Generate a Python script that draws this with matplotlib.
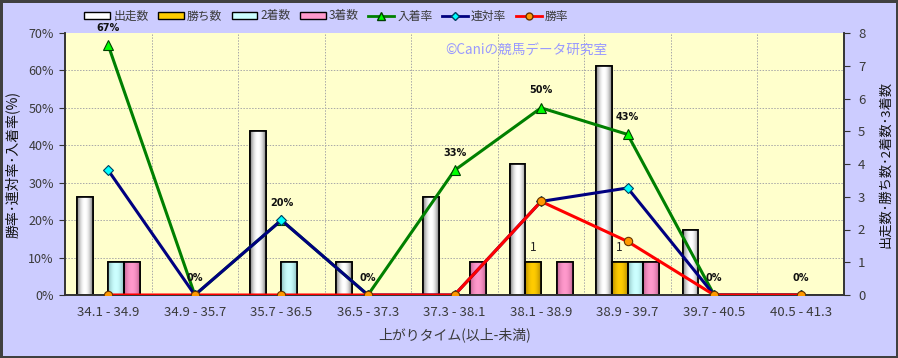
import numpy as np
import matplotlib.pyplot as plt
from matplotlib.colors import LinearSegmentedColormap
from matplotlib.patches import Patch
from matplotlib.lines import Line2D

plt.rcParams['font.family'] = ['Noto Sans CJK JP', 'DejaVu Sans']

# data
categories = ['34.1 - 34.9', '34.9 - 35.7', '35.7 - 36.5', '36.5 - 37.3', '37.3 - 38.1',
              '38.1 - 38.9', '38.9 - 39.7', '39.7 - 40.5', '40.5 - 41.3']
starts = [3, 0, 5, 1, 3, 4, 7, 2, 0]
wins = [0, 0, 0, 0, 0, 1, 1, 0, 0]
seconds = [1, 0, 1, 0, 0, 0, 1, 0, 0]
thirds = [1, 0, 0, 0, 1, 1, 1, 0, 0]
place_rate = [66.7, 0, 20.0, 0, 33.3, 50.0, 42.9, 0, 0]
quinella_rate = [33.3, 0, 20.0, 0, 0, 25.0, 28.6, 0, 0]
win_rate = [0, 0, 0, 0, 0, 25.0, 14.3, 0, 0]
place_labels = ['67%', '0%', '20%', '0%', '33%', '50%', '43%', '0%', '0%']

bg = '#CCCCFF'
plot_bg = '#FFFFCC'
text_col = '#3a3a3a'

fig = plt.figure(figsize=(8.98, 3.58), dpi=100)
fig.patch.set_facecolor(bg)
fig.patch.set_edgecolor('#404040')
fig.patch.set_linewidth(2.5)

# bars on primary axes (ticks on right), lines on twin (ticks on left)
ax = fig.add_axes([65/898, 1 - 295/358, (844 - 65)/898, (295 - 33)/358])
ax.set_facecolor(plot_bg)
ax2 = ax.twinx()

x = np.arange(len(categories))
w = 0.182
bar_series = [
    (starts, '#FFFFFF', '#7A7A7A', '出走数'),
    (wins, '#FFCC00', '#B08800', '勝ち数'),
    (seconds, '#CCFFFF', '#88BBBB', '2着数'),
    (thirds, '#FF99CC', '#C06090', '3着数'),
]
ax.set_xlim(-0.5, len(categories) - 0.5)
ax.set_ylim(0, 8)
ax.set_autoscale_on(False)

grad = np.abs(np.linspace(-1, 1, 64)) ** 2.0
grad = grad.reshape(1, -1)
for i, (vals, light, dark, name) in enumerate(bar_series):
    offs = (i - 1.5) * w
    cmap = LinearSegmentedColormap.from_list(name, [light, dark])
    bars = ax.bar(x + offs, vals, width=w, color=light, edgecolor='black',
                  linewidth=1.2, zorder=2)
    for b in bars:
        if b.get_height() <= 0:
            continue
        im = ax.imshow(grad, cmap=cmap, vmin=0, vmax=1, aspect='auto',
                       extent=[b.get_x(), b.get_x() + b.get_width(), 0, b.get_height()],
                       zorder=2.1)
        im.set_clip_path(b)
        ax.add_patch(plt.Rectangle((b.get_x(), 0), b.get_width(), b.get_height(),
                                   fill=False, edgecolor='black', linewidth=1.2, zorder=2.2))

# win count labels
for xi, v in zip(x, wins):
    if v > 0:
        ax.text(xi - 0.5 * w, v + 0.25, str(v), ha='center', va='bottom',
                fontsize=8.5, color='#222222', zorder=5)

# lines
ax2.set_ylim(0, 70)
ax2.plot(x, place_rate, color='#008000', linewidth=2.2, marker='^', markersize=7,
         markerfacecolor='#00FF00', markeredgecolor='#004000', markeredgewidth=0.8, zorder=3)
ax2.plot(x, quinella_rate, color='#000080', linewidth=2.2, marker='D', markersize=5,
         markerfacecolor='#00FFFF', markeredgecolor='#004060', markeredgewidth=0.8, zorder=4)
ax2.plot(x, win_rate, color='#FF0000', linewidth=2.2, marker='o', markersize=6,
         markerfacecolor='#FF9900', markeredgecolor='#663300', markeredgewidth=0.8, zorder=5)
for xi, v, lab in zip(x, place_rate, place_labels):
    ax2.annotate(lab, (xi, v), xytext=(0, 12.5), textcoords='offset points',
                 ha='center', va='center', fontsize=7, fontweight='bold',
                 color='#111111', family='DejaVu Sans')

# grid (on primary axes, behind bars)
for b in np.arange(0.5, len(categories) - 0.5, 1):
    ax.axvline(b, color='#A8A8A8', linestyle=(0, (1.5, 1.5)), linewidth=0.7, zorder=1)
for g in np.arange(10, 70, 10):
    ax.axhline(g * 8 / 70, color='#A8A8A8', linestyle=(0, (1.5, 1.5)), linewidth=0.7, zorder=1)

# axes styling
ax.set_xticks(x)
ax.set_xticklabels(categories, fontsize=9.5, color=text_col)
ax.tick_params(axis='x', length=0, pad=8)
ax.yaxis.tick_right()
ax.yaxis.set_label_position('right')
ax.set_yticks(range(0, 9))
ax.tick_params(axis='y', labelsize=9.5, labelcolor=text_col, length=4, color='#333333', pad=6)
ax.set_ylabel('出走数･勝ち数･2着数･3着数', fontsize=9.5, color='#111111')
ax.yaxis.set_label_coords(1.045, 0.5)
ax.set_xlabel('上がりタイム(以上-未満)', fontsize=10, color=text_col, labelpad=6)

ax2.yaxis.tick_left()
ax2.yaxis.set_label_position('left')
ax2.set_yticks(range(0, 71, 10))
ax2.set_yticklabels([f'{t}%' for t in range(0, 71, 10)])
ax2.tick_params(axis='y', labelsize=9, labelcolor=text_col, length=4, color='#333333', pad=4)
ax2.set_ylabel('勝率･連対率･入着率(%)', fontsize=10, color='#111111')
ax2.yaxis.set_label_coords(-0.058, 0.5)

for a in (ax, ax2):
    a.spines['top'].set_visible(False)
    for s in ('left', 'right', 'bottom'):
        a.spines[s].set_color('#333333')
        a.spines[s].set_linewidth(1.2)

# watermark
ax.text(0.488, 0.935, '©Caniの競馬データ研究室', transform=ax.transAxes,
        fontsize=9.8, color='#9999FF', ha='left', va='center', zorder=6)

# legend
handles = [Patch(facecolor=c, edgecolor='black', linewidth=1.0) for _, c, _, _ in bar_series]
handles += [
    Line2D([], [], color='#008000', linewidth=2, marker='^', markersize=6,
           markerfacecolor='#00FF00', markeredgecolor='#004000'),
    Line2D([], [], color='#000080', linewidth=2, marker='D', markersize=4,
           markerfacecolor='#00FFFF', markeredgecolor='#004060'),
    Line2D([], [], color='#FF0000', linewidth=2, marker='o', markersize=5,
           markerfacecolor='#FF9900', markeredgecolor='#663300'),
]
labels = ['出走数', '勝ち数', '2着数', '3着数', '入着率', '連対率', '勝率']
fig.legend(handles, labels, loc='center left', bbox_to_anchor=(76/898, 1 - 16/358),
           ncol=7, frameon=False, fontsize=8.5, handlelength=2.2, handleheight=0.6,
           handletextpad=0.25, columnspacing=0.8, labelcolor=text_col, borderpad=0.2)

fig.savefig('out.png', dpi=100, facecolor=fig.get_facecolor(), edgecolor=fig.get_edgecolor())
plt.close()
